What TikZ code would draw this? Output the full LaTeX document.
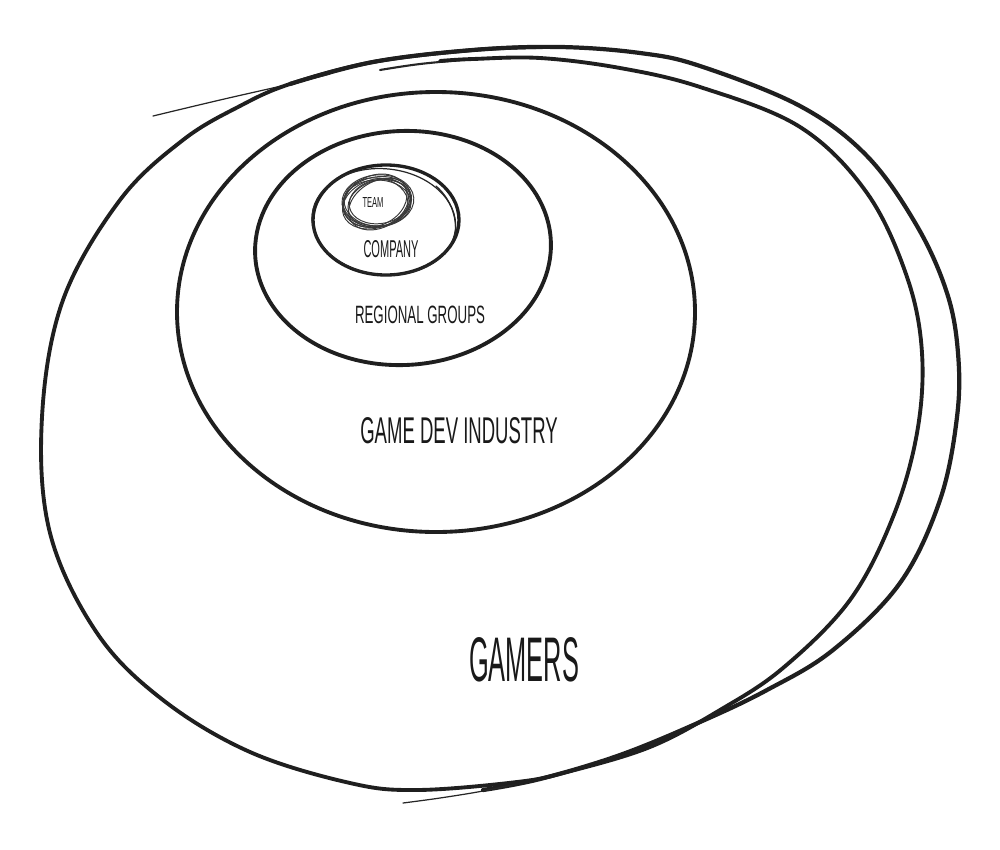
\documentclass[tikz,border=0pt]{standalone}
\usepackage{fontspec}
\setmainfont{Liberation Sans}
\usetikzlibrary{calc}
\tikzset{
  ring/.style={line width=2.2pt, color=black!88, line cap=round, line join=round},
  thinring/.style={line width=0.7pt, color=black!85, line cap=round},
  scribble/.style={line width=0.55pt, color=black!78},
  hand/.style={inner sep=0pt, color=black!90}
}
% sized label: width and height in cm
\def\handtext(#1:#2)#3{\resizebox{#1cm}{#2cm}{#3}}

\begin{document}
\begin{tikzpicture}[x=0.02cm, y=-0.02cm]
			%%%%% START %%%%%
			\useasboundingbox (0, 0) rectangle (1000, 849);
			
			% gamers: two passes of the loose outer loop
			\draw[ring, line width=2.4pt] plot[smooth, tension=0.6] coordinates {(290, 84) (373, 62) (473, 50) (560, 47) (640, 53) (700, 66) (800, 106) (867, 156) (917, 226) (947, 293) (958, 353) (957, 417) (940, 500) (900, 583) (833, 650) (767, 690) (700, 722) (620, 755) (540, 779) (483, 790)};
			\draw[thinring] plot[smooth, tension=0.6] coordinates {(153, 116) (220, 100) (290, 84) (330, 74)};
			\draw[thinring] plot[smooth, tension=0.6] coordinates {(520, 783) (483, 791) (440, 798) (403, 803)};
			\draw[thinring, line width=1.2pt] plot[smooth, tension=0.6] coordinates {(380, 70) (420, 64) (473, 59)};
			\draw[ring] plot[smooth, tension=0.6] coordinates {(440, 61) (473, 59) (540, 58) (620, 68) (700, 87) (800, 127) (867, 193) (907, 277) (922, 353) (917, 433) (893, 517) (850, 600) (783, 668) (720, 710) (650, 747) (567, 772) (517, 782) (417, 790) (350, 783) (250, 752) (163, 700) (97, 633) (50, 533) (42, 417) (63, 300) (120, 200) (183, 140) (240, 106) (290, 84) (373, 62) (473, 50) (540, 47)};
			
			% game dev industry
			\draw[ring] (436, 312) ellipse (259 and 220);
			
			% regional groups
			\draw[ring, rotate around={3:(403, 248)}] (403, 248) ellipse (148 and 117);
			
			% company, drawn twice by hand
			\draw[ring, line width=1.9pt] (386, 220) ellipse (73 and 55);
			\draw[thinring, rotate around={-6:(386, 220)}] (384, 222) ellipse (72 and 53);
			\draw[thinring] (436, 186) .. controls (452, 200) and (458, 220) .. (455, 240);
			
			% team scribble
			\draw[scribble, rotate around={12:(377, 202)}] (377, 202) ellipse (35 and 25);
			\draw[scribble, rotate around={20:(377, 202)}] (375, 203) ellipse (34 and 24);
			\draw[scribble, rotate around={5:(377, 202)}] (378, 201) ellipse (36 and 26);
			\draw[scribble, rotate around={15:(377, 202)}] (379, 204) ellipse (32 and 23);
			\draw[scribble, rotate around={25:(377, 202)}] (376, 200) ellipse (33 and 25);
			\draw[scribble, rotate around={0:(377, 202)}] (377, 203) ellipse (34 and 23);
			\draw[scribble, rotate around={10:(377, 202)}] (380, 202) ellipse (31 and 22);
			\draw[scribble, rotate around={30:(377, 202)}] (378, 205) ellipse (33 and 23);
			\draw[scribble, rotate around={-5:(377, 202)}] (376, 202) ellipse (32 and 24);
			
			% labels
			\node[hand] (team) at (373, 202) {\handtext(0.42:0.2){TEAM}};
			\node[hand] (company) at (391, 249) {\handtext(1.1:0.34){COMPANY}};
			\node[hand] (regional) at (420, 315) {\handtext(2.6:0.35){REGIONAL GROUPS}};
			\node[hand] (industry) at (459, 431) {\handtext(3.95:0.52){GAME DEV INDUSTRY}};
			\node[hand] (gamers) at (524, 660) {\handtext(2.2:0.88){GAMERS}};
			
			%%%%% END %%%%%
\end{tikzpicture}
\end{document}
